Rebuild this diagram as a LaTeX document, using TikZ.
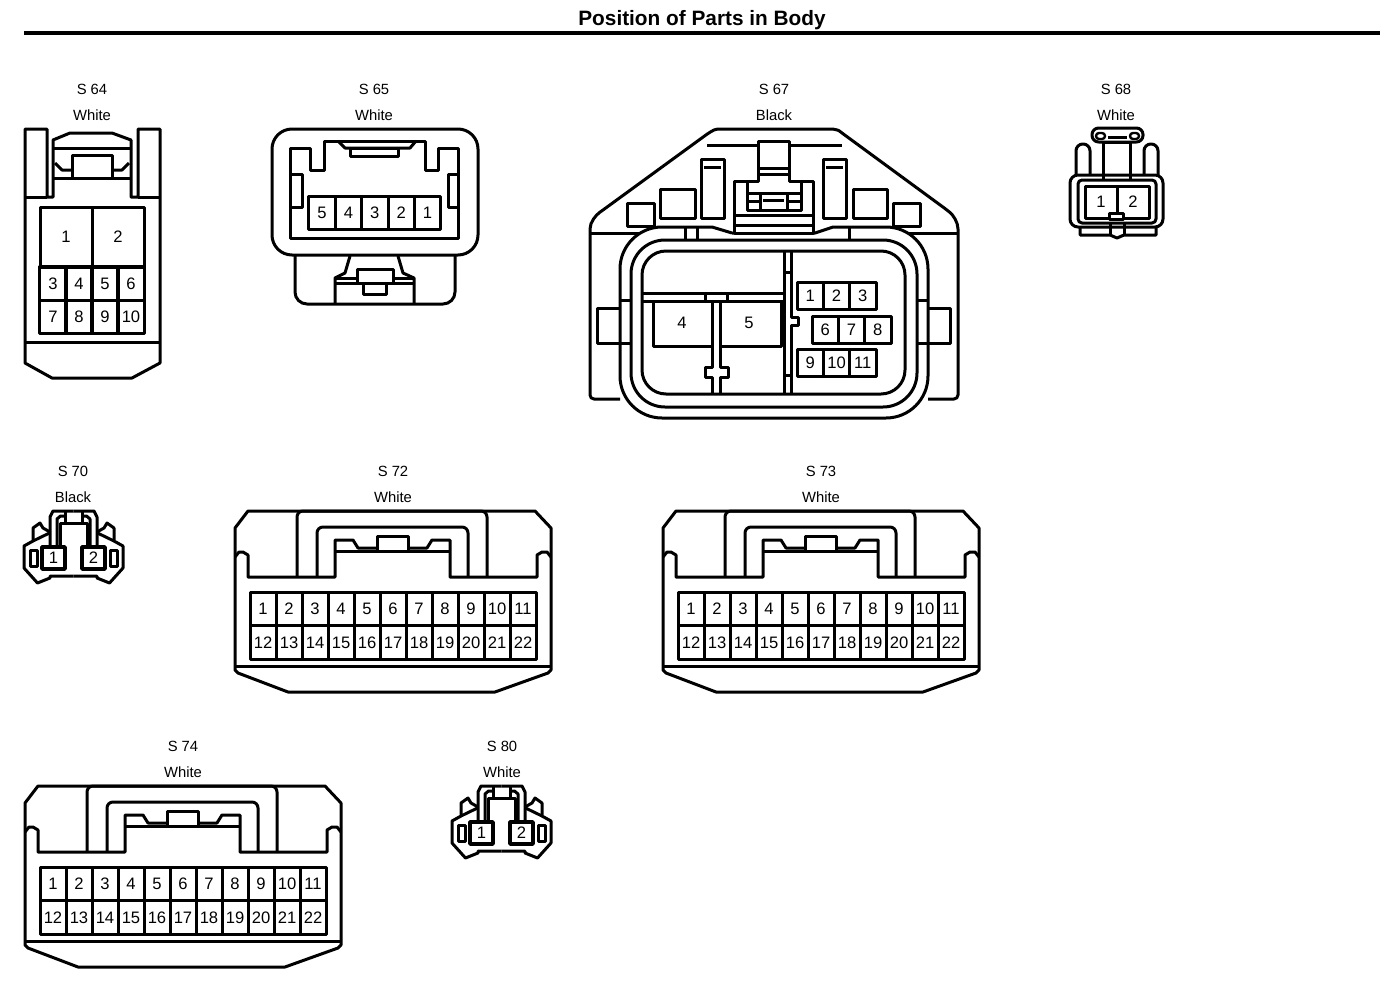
\documentclass[tikz,border=0pt]{standalone}
\usepackage{fontspec}
\setmainfont{Liberation Sans}
\usetikzlibrary{positioning}

% the 22 way connector, drawn where S 72 stands
\tikzset{wide conn/.pic={
    \draw (235,528) -- (248,511) -- (535,511) -- (551,528) -- (551,670) -- (548,673) -- (495,692) -- (288,692) -- (238,673) -- (235,670) -- cycle;
    \draw (235,666) -- (551,666);
    \draw (235,557) -- (239,552) -- (243,552) -- (248,555) -- (248,577) -- (335,577) -- (335,540) -- (353,540) -- (358,548) -- (377,548);
    \draw (551,557) -- (547,552) -- (542,552) -- (537,555) -- (537,577) -- (450,577) -- (450,540) -- (432,540) -- (427,548) -- (408,548);
    \draw (377,551) rectangle (408,536);
    \draw (335,551) -- (450,551);
    \draw[rounded corners=3pt] (297,577) -- (297,511) -- (487,511) -- (487,577);
    \draw[rounded corners=3pt] (317,577) -- (317,527) -- (468,527) -- (468,577);
    \foreach \n in {1,...,11}
        \node[wide cell] (P\n) at (237+26*\n,609) {\n};
    \foreach \n [evaluate=\n as \m using int(\n+11)] in {1,...,11}
        \node[wide cell] (P\m) at (237+26*\n,642.5) {\m};
}}

% the small 2 way connector, drawn round x=0 with its y as at S 70
\tikzset{small conn/.pic={
    \foreach \m in {1,-1} {
        \begin{scope}[xscale=\m]
            \draw (-23.5,545) -- (-23.5,517) -- (-20.5,511) -- (0,511);
            \draw (-16.5,545) -- (-16.5,519) -- (-13,516) -- (-8.5,516);
            \draw (0,523) -- (-13.5,523) -- (-13.5,547);
            \draw (-8.5,511) -- (-8.5,523);
            \draw (-23.5,532) -- (-30.5,528) -- (-33.5,523) -- (-40.5,528) -- (-40.5,541) -- (-49.5,546) -- (-49.5,568) -- (-36,583) -- (-23.5,578) -- (-23.5,576) -- (0,576);
            \draw (-40.5,541) -- (-24,533);
            \draw (-43.5,550) rectangle (-36.5,566);
        \end{scope}
    }
    \node[small cell] (P1) at (-20,558) {1};
    \node[small cell] (P2) at (20,558) {2};
}}

\begin{document}
\begin{tikzpicture}[x=0.5pt,y=-0.5pt,line width=1.5pt,line join=round,font=\fontsize{8.3}{10}\selectfont]
    \tikzstyle{part label}=[inner sep=0pt,font=\fontsize{7.4}{9}\selectfont]
    \tikzstyle{cell}=[draw,rectangle,inner sep=0pt]
    \tikzstyle{wide cell}=[cell,minimum width=13pt,minimum height=16.75pt]
    \tikzstyle{small cell}=[cell,minimum width=11.5pt,minimum height=11pt,line width=1.8pt]
    \tikzstyle{big cell}=[cell,minimum width=26pt,minimum height=30pt]
    \tikzstyle{row cell}=[cell,minimum width=13.2pt,minimum height=16.5pt]
    \tikzstyle{body cell}=[cell,minimum width=13.2pt,minimum height=13.5pt]

    \useasboundingbox (0,0) rectangle (1392,980);

    % Title and rule
    \node[inner sep=0pt,font=\fontsize{10.4}{12}\selectfont\bfseries] (title) at (702,20.5) {Position of Parts in Body};
    \coordinate (ruleL) at (24,33);
    \coordinate (ruleR) at (1380,33);
    \draw[line width=2pt] (ruleL) -- (ruleR);

    % Part numbers and colours
    \foreach \name / \x / \y / \colour in {64/92/89.5/White,65/374/89.5/White,67/774/89.5/Black,68/1116/89.5/White,70/73/471.5/Black,72/393/471.5/White,73/821/471.5/White,74/183/746.5/White,80/502/746.5/White} {
        \node[part label] (N-\name) at (\x,\y) {S \name};
        \node[part label] (C-\name) at (\x,\y+26) {\colour};
    }

    % S 64
    \draw (25,197) -- (25,129) -- (47,129) -- (47,197) -- (53,197) -- (53,140) -- (70,133) -- (112,133) -- (131,140) -- (131,197) -- (138,197) -- (138,129) -- (160,129) -- (160,363) -- (132,378) -- (52,378) -- (25,363) -- cycle;
    \draw (25,197) -- (47,197);
    \draw (138,197) -- (160,197);
    \draw (25,342) -- (160,342);
    \draw (53,148) -- (131,148);
    \draw (53,178) -- (131,178);
    \draw (72,178) -- (72,155) -- (112,155) -- (112,178);
    \draw (55,163) -- (62,170) -- (72,170);
    \draw (129,163) -- (122,170) -- (112,170);
    \foreach \name / \x in {1/66,2/118}
        \node[big cell] (A-\name) at (\x,237) {\name};
    \foreach \name / \x / \y in {3/53/283.5,4/79/283.5,5/105/283.5,6/131/283.5,7/53/317,8/79/317,9/105/317,10/131/317}
        \node[body cell,minimum height=16.75pt] (A-\name) at (\x,\y) {\name};

    % S 65
    \draw[rounded corners=10pt] (272,129) rectangle (478,255);
    \draw (290,148) -- (310,148) -- (310,170) -- (324,170) -- (324,141) -- (425,141) -- (425,170) -- (438,170) -- (438,148) -- (458,148) -- (458,238) -- (290,238) -- cycle;
    \draw (338,141) -- (345,148) -- (410,148) -- (416,141);
    \draw (350,148) rectangle (398,156);
    \draw (290,174) rectangle (302,207);
    \draw (448,174) rectangle (458,207);
    \foreach \name / \x in {5/322,4/348.4,3/374.8,2/401.2,1/427.6}
        \node[row cell] (B-\name) at (\x,212.5) {\name};
    \draw[rounded corners=6pt] (295,255) -- (295,304) -- (455,304) -- (455,255);
    \draw (350,256) -- (345,273) -- (335,278) -- (335,304);
    \draw (398,256) -- (403,273) -- (414,278) -- (414,304);
    \draw (335,278) -- (357,278);
    \draw (393,278) -- (414,278);
    \draw (335,283) -- (414,283);
    \draw (357,283) -- (357,269) -- (393,269) -- (393,283);
    \draw (363,283) rectangle (386,294);

    % S 67 body
    \draw[rounded corners=2pt] (620,399) -- (590,399) -- (590,233) .. controls (590,222) and (596,215) .. (603,210) -- (710,132) .. controls (714,130) and (717,129) .. (722,129) -- (828,129) .. controls (833,129) and (838,130) .. (842,133) -- (947,210) .. controls (953,215) and (958,222) .. (958,233) -- (958,399) -- (928,399);
    \draw (732,233) [sharp corners] -- (712,227) [rounded corners=21pt] -- (620,227) -- (620,418) -- (928,418) -- (928,227) [sharp corners] -- (833,227) -- (815,233) -- (732,233);
    \draw[rounded corners=17pt] (631,240) rectangle (917,407);
    \draw[rounded corners=12pt] (642,251) rectangle (905,394);
    \draw (590,233) -- (639,233);
    \draw (909,233) -- (958,233);
    \draw (685,227) -- (685,240);
    \draw (697,227) -- (697,240);
    \draw (849,227) -- (849,240);

    % S 67 latch
    \draw (707,145) -- (842,145);
    \draw[fill=white] (758,141) -- (789,141) -- (789,181) -- (813,181) -- (813,233) -- (734,233) -- (734,181) -- (758,181) -- cycle;
    \draw (758,168) -- (789,168);
    \draw (758,174) -- (789,174);
    \draw (747,181) -- (747,210) -- (801,210) -- (801,181);
    \draw (747,193) -- (801,193);
    \draw (760,193) rectangle (787,210);
    \draw (763,200) -- (784,200);
    \draw (747,201) -- (760,201);
    \draw (787,201) -- (801,201);
    \draw (734,215) -- (813,215);
    \draw (734,225) -- (813,225);
    \foreach \x in {701,823} {
        \draw (\x,159) rectangle (\x+23,218);
        \draw (\x+3,167) -- (\x+20,167);
    }
    \draw (660,189) rectangle (695,218);
    \draw (853,189) rectangle (887,218);
    \draw (627,203) rectangle (654,226);
    \draw (893,203) rectangle (920,226);

    % S 67 side tabs
    \draw (620,308) -- (597,308) -- (597,343) -- (631,343);
    \draw (928,308) -- (950,308) -- (950,343) -- (917,343);
    \draw (620,300) -- (631,300);
    \draw (917,300) -- (928,300);

    % S 67 inside
    \draw (784,251) -- (784,394);
    \draw (791,251) -- (791,317) -- (798,317) -- (798,325) -- (791,325) -- (791,394);
    \draw (784,272) -- (791,272);
    \draw (784,375) -- (791,375);
    \draw (642,293) -- (784,293);
    \draw (642,301) -- (784,301);
    \draw (705,293) -- (705,301);
    \draw (727,293) -- (727,301);
    \draw (653,301) -- (653,346) -- (712,346);
    \draw (720,346) -- (781,346) -- (781,301);
    \draw (712,301) -- (712,367) -- (705,367) -- (705,377) -- (712,377) -- (712,394);
    \draw (720,301) -- (720,367) -- (728,367) -- (728,377) -- (720,377) -- (720,394);
    \node[inner sep=0pt] (D-4) at (682,323) {4};
    \node[inner sep=0pt] (D-5) at (749,323) {5};
    \foreach \name / \x / \y in {1/810.2/296,2/836.5/296,3/862.8/296,6/825.2/330,7/851.5/330,8/877.8/330,9/810.2/363,10/836.5/363,11/862.8/363}
        \node[body cell] (D-\name) at (\x,\y) {\name};

    % S 68
    \draw[rounded corners=3.3pt] (1092,142) -- (1092,128) -- (1143,128) -- (1143,142) -- cycle;
    \draw[line width=1.2pt,rounded corners=1.5pt] (1096,139) -- (1096,133) -- (1105,133) -- (1105,139) -- cycle;
    \draw[line width=1.2pt,rounded corners=1.5pt] (1130,139) -- (1130,133) -- (1139,133) -- (1139,139) -- cycle;
    \draw (1108,137) -- (1127,137);
    \draw (1103,180) -- (1103,142) -- (1130,142) -- (1130,180);
    \draw[rounded corners=3.4pt] (1076,175) -- (1076,144) -- (1090,144) -- (1090,175);
    \draw[rounded corners=3.4pt] (1144,175) -- (1144,144) -- (1158,144) -- (1158,175);
    \draw[rounded corners=4pt] (1070,175) rectangle (1163,227);
    \draw[rounded corners=2pt] (1078,180) rectangle (1156,223);
    \node[cell,minimum width=16pt,minimum height=16pt] (E-1) at (1101,202) {1};
    \node[cell,minimum width=16pt,minimum height=16pt] (E-2) at (1133,202) {2};
    \draw[fill=white] (1109,213) rectangle (1123,219);
    \draw (1080,227) -- (1080,235) -- (1110,235) -- (1117,238) -- (1124,235) -- (1156,235) -- (1156,227);
    \draw (1110,223) -- (1110,235);
    \draw (1124,223) -- (1124,235);

    % The small 2 way connectors
    \pic (S70) at (73.5,0) {small conn};
    \pic (S80) at (501.5,275) {small conn};

    % The 22 way connectors
    \pic (S72) at (0,0) {wide conn};
    \pic (S73) at (428,0) {wide conn};
    \pic (S74) at (-210,275) {wide conn};
\end{tikzpicture}
\end{document}
